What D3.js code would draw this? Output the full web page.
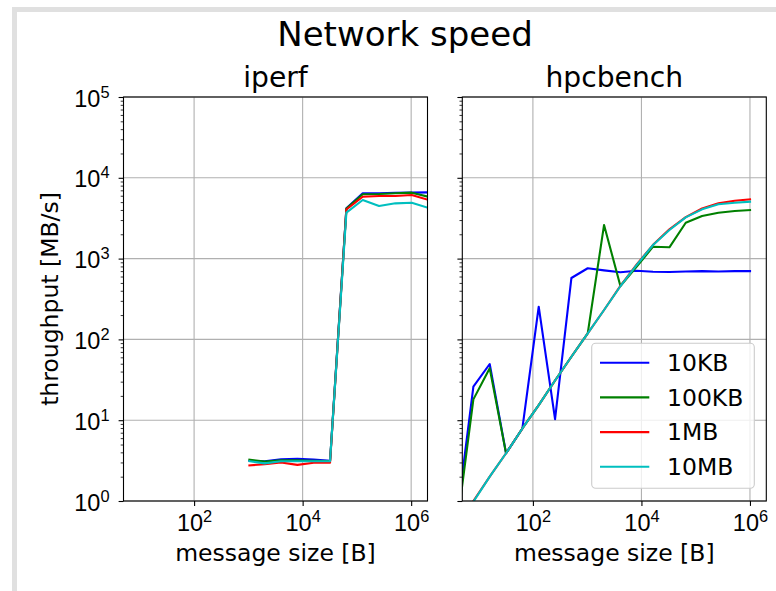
<!DOCTYPE html>
<html>
<head>
<meta charset="utf-8">
<script src="https://cdn.jsdelivr.net/npm/d3@7"></script>
<style>
  body { margin: 0; background: #fff; }
  svg { display: block; font-family: "DejaVu Sans", sans-serif; }
</style>
</head>
<body>
<svg width="776" height="591"></svg>
<script>
// series names + colours (legend order)
const series = ["10KB", "100KB", "1MB", "10MB"];
const colors = ["#0000ff", "#008000", "#ff0000", "#00bfbf"];

// iperf: message size [B] vs throughput [MB/s]
const iperfSizes = [1000, 2000, 4000, 8000, 16000, 32000, 64000, 128000, 256000, 512000, 1024000, 2048000];
const iperf10KB  = [3.15, 3.1, 3.28, 3.33, 3.25, 3.15, 4200, 6430, 6430, 6500, 6550, 6600];
const iperf100KB = [3.25, 3.08, 3.2, 3.18, 3.15, 3.12, 4150, 6250, 6300, 6450, 6550, 5850];
const iperf1MB   = [2.75, 2.85, 3.0, 2.8, 2.97, 2.97, 4050, 5830, 5950, 5950, 6120, 5350];
const iperf10MB  = [3.12, 2.92, 3.1, 3.1, 3.1, 3.1, 3700, 5310, 4480, 4830, 4920, 4250];

// hpcbench
const hpcSizes = [4, 8, 16, 32, 64, 128, 256, 512, 1024, 2048, 4096, 8192, 16384, 32768, 65536, 131072, 262144, 524288, 1048576];
const hpc10KB  = [0.65, 26, 49.6, 3.9, 7.9, 254, 10.3, 575, 759, 715, 677, 708, 688, 683, 693, 700, 693, 700, 700];
const hpc100KB = [0.5, 18.1, 43.9, 3.9, 7.9, 15.4, 31, 61, 119, 2610, 458, 795, 1404, 1380, 2780, 3370, 3700, 3880, 3995];
const hpc1MB   = [0.5, 1.0, 2.0, 3.9, 7.9, 15.4, 31, 61, 119, 231, 460, 850, 1480, 2300, 3260, 4170, 4830, 5210, 5420];
const hpc10MB  = [0.5, 0.98, 2.0, 3.9, 7.9, 15.4, 31, 61, 119, 231, 455, 834, 1473, 2260, 3240, 4070, 4700, 4920, 5070];

// ticks
const xTicks = [1e2, 1e4, 1e6];
const yTicks = [1, 10, 100, 1000, 10000, 100000];

const titleText = "Network speed";
const panelTitles = ["iperf", "hpcbench"];
const xLabel = "message size [B]";
const yLabel = "throughput [MB/s]";

const panels = [
    { title: panelTitles[0], sizes: iperfSizes, values: [iperf10KB, iperf100KB, iperf1MB, iperf10MB], left: 123.5, legend: false },
    { title: panelTitles[1], sizes: hpcSizes, values: [hpc10KB, hpc100KB, hpc1MB, hpc10MB], left: 462.3, legend: true }
];

const chart = () => {
    const pw = 304;
    const top = 97, bottom = 501;
    const fs = 23.5, sup = 16.4;

    const svg = d3.select("svg");

    // notebook frame
    svg.append("rect").attr("x", 12).attr("y", 7).attr("width", 764).attr("height", 5).attr("fill", "#e0e0e0");
    svg.append("rect").attr("x", 12).attr("y", 7).attr("width", 5).attr("height", 584).attr("fill", "#e0e0e0");

    svg.append("text")
        .attr("x", 405).attr("y", 46)
        .attr("text-anchor", "middle")
        .style("font-size", "34px")
        .text(titleText);

    const y = d3.scaleLog().domain([1, 1e5]).range([bottom, top]);
    const minorY = [];
    for (let d = 0; d < 5; d++) for (let k = 2; k <= 9; k++) minorY.push(k * Math.pow(10, d));

    // superscript labels 10^n
    const powLabel = function (sel) {
        sel.each(function (d) {
            const t = d3.select(this);
            t.text(null);
            t.append("tspan").text("10");
            t.append("tspan").attr("dy", -9).style("font-size", sup + "px").text(Math.round(Math.log10(d)));
        });
    };

    panels.forEach((p, i) => {
        const x = d3.scaleLog().domain([5, 2e6]).range([p.left, p.left + pw]);
        const g = svg.append("g");

        g.append("clipPath").attr("id", "clip" + i)
            .append("rect").attr("x", p.left).attr("y", top).attr("width", pw).attr("height", bottom - top);

        // grid
        g.append("g").selectAll("line").data(xTicks).enter().append("line")
            .attr("x1", d => x(d)).attr("x2", d => x(d))
            .attr("y1", top).attr("y2", bottom)
            .attr("stroke", "#b0b0b0").attr("stroke-width", 1.1);
        g.append("g").selectAll("line").data(yTicks).enter().append("line")
            .attr("x1", p.left).attr("x2", p.left + pw)
            .attr("y1", d => y(d)).attr("y2", d => y(d))
            .attr("stroke", "#b0b0b0").attr("stroke-width", 1.1);

        // lines
        const line = d3.line().x(d => x(d[0])).y(d => y(d[1]));
        g.append("g").attr("clip-path", `url(#clip${i})`)
            .selectAll("path").data(p.values).enter().append("path")
            .attr("d", vals => line(vals.map((v, j) => [p.sizes[j], v])))
            .attr("fill", "none")
            .attr("stroke", (d, j) => colors[j])
            .attr("stroke-width", 2.1)
            .attr("stroke-linejoin", "round");

        // x axis
        const xa = g.append("g")
            .attr("transform", `translate(0,${bottom})`)
            .call(d3.axisBottom(x).tickValues(xTicks).tickSize(4.9).tickSizeOuter(0));
        xa.select(".domain").remove();
        xa.selectAll(".tick line").attr("stroke", "#000").attr("stroke-width", 1.1);
        xa.selectAll(".tick text")
            .attr("y", 30).attr("dy", null)
            .attr("fill", "#000")
            .style("font-size", fs + "px")
            .call(powLabel);

        // y axis (major + minor)
        const ya = g.append("g")
            .attr("transform", `translate(${p.left},0)`)
            .call(d3.axisLeft(y).tickValues(yTicks).tickSize(4.9).tickSizeOuter(0));
        ya.select(".domain").remove();
        ya.selectAll(".tick line").attr("stroke", "#000").attr("stroke-width", 1.1);
        if (i === 0) {
            ya.selectAll(".tick text")
                .attr("x", -14).attr("y", 9).attr("dy", null)
                .attr("fill", "#000")
                .style("font-size", fs + "px")
                .call(powLabel);
        } else {
            ya.selectAll(".tick text").remove();
        }
        const ym = g.append("g")
            .attr("transform", `translate(${p.left},0)`)
            .call(d3.axisLeft(y).tickValues(minorY).tickSize(2.8).tickFormat(""));
        ym.select(".domain").remove();
        ym.selectAll(".tick line").attr("stroke", "#000").attr("stroke-width", 0.8);

        // spines
        g.append("rect")
            .attr("x", p.left).attr("y", top).attr("width", pw).attr("height", bottom - top)
            .attr("fill", "none").attr("stroke", "#000").attr("stroke-width", 1.1);

        g.append("text")
            .attr("x", p.left + pw / 2).attr("y", 87)
            .attr("text-anchor", "middle")
            .style("font-size", "28.2px")
            .text(p.title);

        g.append("text")
            .attr("x", p.left + pw / 2).attr("y", 561)
            .attr("text-anchor", "middle")
            .style("font-size", fs + "px")
            .text(xLabel);

        if (p.legend) {
            const lg = g.append("g");
            lg.append("rect")
                .attr("x", 591.7).attr("y", 343.3).attr("width", 162.6).attr("height", 145)
                .attr("rx", 4).attr("ry", 4)
                .attr("fill", "#fff").attr("fill-opacity", 0.8)
                .attr("stroke", "#cccccc").attr("stroke-width", 1.1);
            const rows = lg.selectAll("g.item").data(series).enter().append("g")
                .attr("class", "item")
                .attr("transform", (d, j) => `translate(0,${362.7 + j * 34.7})`);
            rows.append("line")
                .attr("x1", 600).attr("x2", 649.3)
                .attr("stroke", (d, j) => colors[j])
                .attr("stroke-width", 2.1);
            rows.append("text")
                .attr("x", 667).attr("y", 8.3)
                .style("font-size", fs + "px")
                .text(d => d);
        }
    });

    svg.append("text")
        .attr("transform", "translate(58,299) rotate(-90)")
        .attr("text-anchor", "middle")
        .style("font-size", fs + "px")
        .text(yLabel);
};

chart();
</script>
</body>
</html>
